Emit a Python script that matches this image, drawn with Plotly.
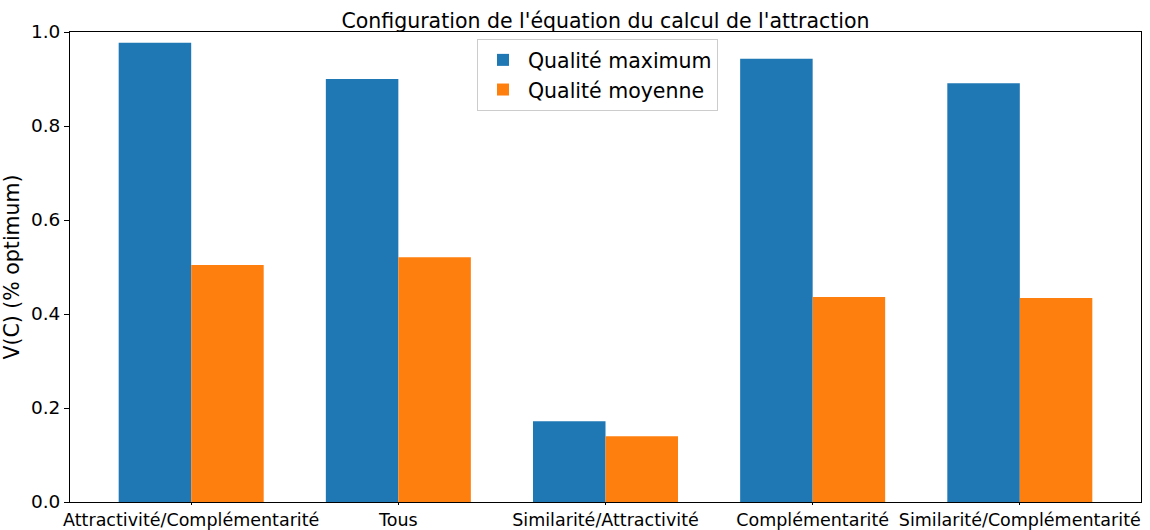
import plotly.graph_objects as go

categories = [
    "Attractivité/Complémentarité",
    "Tous",
    "Similarité/Attractivité",
    "Complémentarité",
    "Similarité/Complémentarité",
]
qualite_maximum = [0.977, 0.900, 0.172, 0.943, 0.891]
qualite_moyenne = [0.504, 0.521, 0.140, 0.436, 0.434]
y_ticks = [0.0, 0.2, 0.4, 0.6, 0.8, 1.0]

FONT = "DejaVu Sans"

fig = go.Figure()
fig.add_trace(go.Bar(
    x=categories, y=qualite_maximum, name="Qualité maximum",
    marker=dict(color="#1f77b4", line=dict(width=0)),
))
fig.add_trace(go.Bar(
    x=categories, y=qualite_moyenne, name="Qualité moyenne",
    marker=dict(color="#ff7f0e", line=dict(width=0)),
))

fig.update_layout(
    width=1150, height=530,
    barmode="group", bargap=0.3, bargroupgap=0,
    plot_bgcolor="white", paper_bgcolor="white",
    margin=dict(l=70, r=9, t=32, b=28, autoexpand=False),
    font=dict(family=FONT, color="black", size=18),
    title=dict(
        text="Configuration de l'équation du calcul de l'attraction",
        x=0.5, xref="paper", xanchor="center",
        y=1, yref="paper", yanchor="bottom", pad=dict(b=4),
        font=dict(family=FONT, size=20.5, color="black"),
    ),
    legend=dict(
        x=0.38, xanchor="left", y=0.985, yanchor="top",
        bgcolor="rgba(255,255,255,0.8)", bordercolor="#cccccc", borderwidth=1,
        font=dict(family=FONT, size=20.5),
        itemwidth=40,
    ),
    showlegend=True,
)

fig.update_xaxes(
    type="category", range=[-0.585, 4.585], automargin=False,
    showgrid=False, zeroline=False,
    showline=True, linecolor="black", linewidth=1, mirror=True,
    ticks="outside", ticklen=2, tickcolor="black",
    tickfont=dict(family=FONT, size=17.5),
)
fig.update_yaxes(
    range=[0, 1], tickvals=y_ticks, ticktext=[f"{v:.1f}" for v in y_ticks],
    automargin=False,
    showgrid=False, zeroline=False,
    showline=True, linecolor="black", linewidth=1, mirror=True,
    ticks="outside", ticklen=5, tickcolor="black",
    tickfont=dict(family=FONT, size=18.5),
    title=dict(text="V(C) (% optimum)", font=dict(family=FONT, size=20.5), standoff=8),
)

fig.write_html("out.html")
